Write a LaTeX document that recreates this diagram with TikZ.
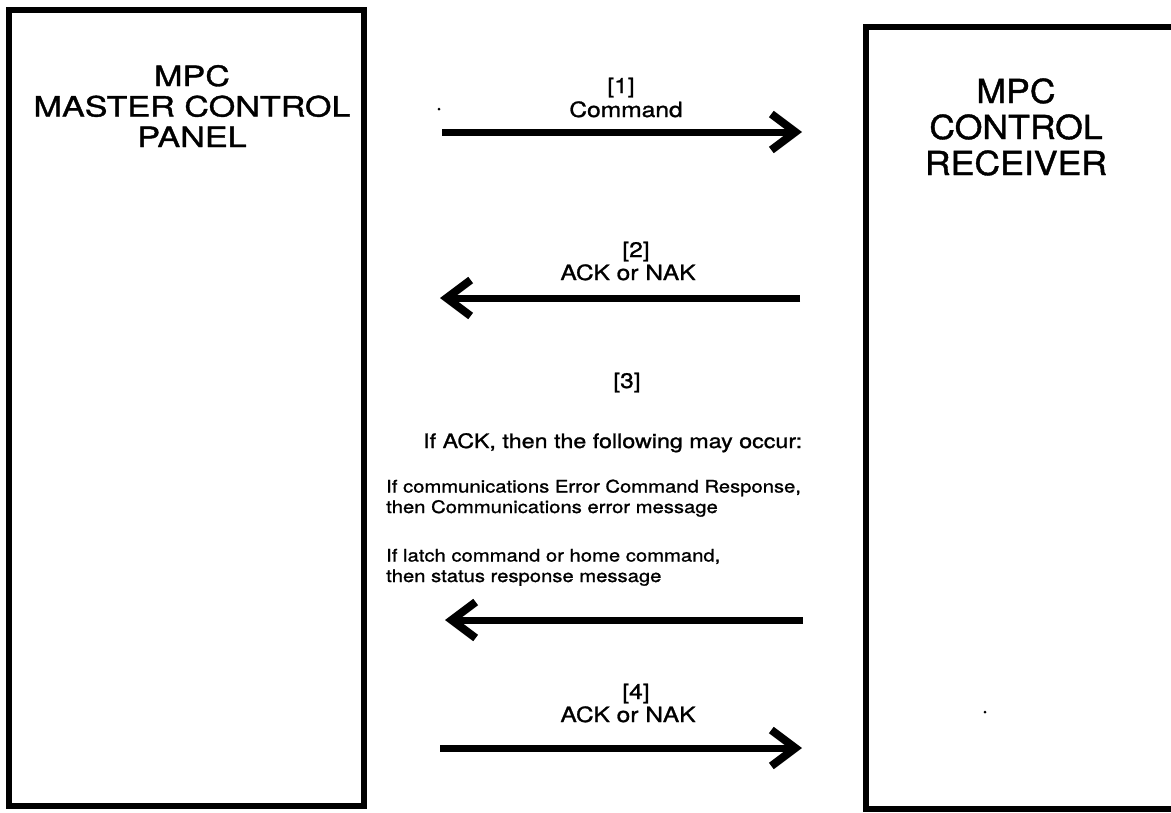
\documentclass[tikz,border=0pt]{standalone}
\usepackage{fontspec}
\setmainfont{TeX Gyre Heros}[FakeStretch=1.17,FakeBold=1.2]
\newfontfamily\leftfont{TeX Gyre Heros}[FakeStretch=1.22,FakeBold=1.2]
\newfontfamily\rightfont{TeX Gyre Heros}[FakeStretch=1.08,FakeBold=1.2]
\usetikzlibrary{arrows.meta}
\begin{document}
\begin{tikzpicture}[x=1pt,y=-1pt,
  box/.style={draw, line width=5.5pt, inner sep=0pt},
  msg/.style={line width=7pt, -{Straight Barb[length=24pt,width=36pt,line width=8pt]}},
  lbl/.style={font=\fontsize{21}{24}\selectfont, anchor=base, inner sep=0pt},
  note/.style={font=\fontsize{17.3}{20.5}\selectfont, anchor=base west, inner sep=0pt, align=left},
  speck/.style={fill, circle, inner sep=0pt, minimum size=3pt},
]
\useasboundingbox (0,0) rectangle (1171,812);
% boxes
\node[box, minimum width=355pt, minimum height=796pt] (mcp) at (186.5,408) {};
\node[box, minimum width=314pt, minimum height=782pt] (rcv) at (1023,418) {};
% titles (anchor base = baseline of the last line)
\node[font=\leftfont\fontsize{28}{30.5}\selectfont, align=center, anchor=base, inner sep=0pt] (mcpT) at (192,147) {MPC\\MASTER CONTROL\\PANEL};
\node[font=\rightfont\fontsize{33}{36}\selectfont, align=center, anchor=base, inner sep=0pt] (rcvT) at (1016,175) {MPC\\CONTROL\\RECEIVER};
% arrow end points
\coordinate (a1s) at (442,132); \coordinate (a1e) at (802,132);
\coordinate (a2s) at (800,298); \coordinate (a2e) at (440,298);
\coordinate (a3s) at (803,620); \coordinate (a3e) at (445,620);
\coordinate (a4s) at (440,748); \coordinate (a4e) at (802,748);
\draw[msg] (a1s) -- (a1e);
\draw[msg] (a2s) -- (a2e);
\draw[msg] (a3s) -- (a3e);
\draw[msg] (a4s) -- (a4e);
% labels
\node[lbl] (n1) at (621,93) {[1]};
\node[lbl] (l1) at (626,117) {Command};
\node[lbl] (n2) at (636,257) {[2]};
\node[lbl] (l2) at (628,280) {ACK or NAK};
\node[lbl] (n3) at (627,388) {[3]};
\node[lbl, font=\fontsize{19.9}{24}\selectfont, anchor=base west] (l3) at (423,448) {If ACK, then the following may occur:};
\node[note] (c1) at (386,513) {If communications Error Command Response,\\then Communications error message};
\node[note] (c2) at (386,582) {If latch command or home command,\\then status response message};
\node[lbl] (n4) at (636,699) {[4]};
\node[lbl] (l4) at (628,722) {ACK or NAK};
% specks
\node[speck] (s1) at (439,109) {};
\node[speck] (s2) at (985,712) {};
\end{tikzpicture}
\end{document}
